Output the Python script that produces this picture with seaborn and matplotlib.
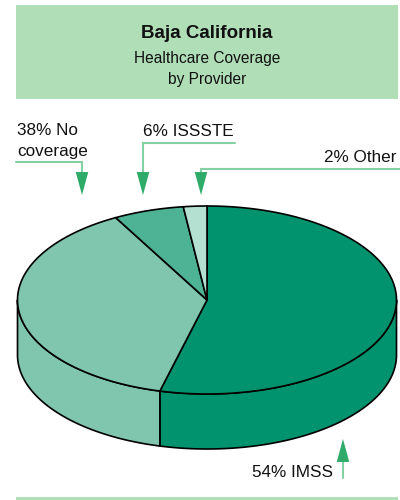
import numpy as np
import matplotlib
matplotlib.use("Agg")
import matplotlib.pyplot as plt
import seaborn as sns
from matplotlib.patches import Polygon, Rectangle

# ---- data ----
categories = ["IMSS", "No coverage", "ISSSTE", "Other"]
shares = [54, 38, 6, 2]
slice_labels = ["54% IMSS", "38% No\ncoverage", "6% ISSSTE", "2% Other"]
slice_colors = ["#00936d", "#80c6ae", "#4eb394", "#b4e0d2"]
title = "Baja California"
subtitle_lines = ["Healthcare Coverage", "by Provider"]

sns.set_theme(style="white")
plt.rcParams["font.family"] = ["Liberation Sans", "DejaVu Sans"]

fig = plt.figure(figsize=(4, 5), dpi=100)
ax = fig.add_axes([0, 0, 1, 1])
ax.set_xlim(0, 400)
ax.set_ylim(500, 0)
ax.axis("off")

HEADER = "#b0deb7"
LINE_C = "#85d0a2"
HEAD_C = "#2fab69"

# header box and bottom rule
ax.add_patch(Rectangle((16, 5), 382, 93.5, facecolor=HEADER, edgecolor="none"))
ax.add_patch(Rectangle((16, 497), 382, 3, facecolor=HEADER, edgecolor="none"))
ax.text(207, 37.5, title, ha="center", va="baseline", fontsize=13.5,
        fontweight="bold", color="#111111")
for i, line in enumerate(subtitle_lines):
    ax.text(207, 63 + 21 * i, line, ha="center", va="baseline",
            fontsize=11.2, color="#111111")

# ---- 3D pie ----
cx, cy, rx, ry, depth = 207, 300, 189.5, 94, 55
frac = np.array(shares, dtype=float) / sum(shares)
starts = np.pi / 2 - 2 * np.pi * np.concatenate([[0], np.cumsum(frac)[:-1]])
ends = starts - 2 * np.pi * frac


def arc(t0, t1, n=120, dy=0.0):
    t = np.linspace(t0, t1, n)
    return np.column_stack([cx + rx * np.cos(t), cy - ry * np.sin(t) + dy])


EDGE = dict(edgecolor="black", linewidth=1.2, joinstyle="round")

# sides (front half only)
for s, e, col in zip(starts, ends, slice_colors):
    for k in (-1, 0, 1):
        lo = max(e, -np.pi + 2 * np.pi * k)
        hi = min(s, 2 * np.pi * k)
        if hi > lo:
            top = arc(lo, hi)
            bot = arc(hi, lo, dy=depth)
            ax.add_patch(Polygon(np.vstack([top, bot]), closed=True,
                                 facecolor=col, **EDGE))

# tops
for s, e, col in zip(starts, ends, slice_colors):
    pts = np.vstack([[cx, cy], arc(s, e)])
    ax.add_patch(Polygon(pts, closed=True, facecolor=col, **EDGE))

# ---- callouts ----
TXT = dict(fontsize=12.3, color="#111111", va="baseline")


def head(x, tip_y, up=False):
    tail = tip_y + 23 if not up else tip_y - 23
    if up:
        tail = tip_y + 23
    else:
        tail = tip_y - 23
    ax.annotate("", xy=(x, tip_y), xytext=(x, tail),
                arrowprops=dict(arrowstyle="-|>,head_length=1.65,head_width=0.45",
                                color=HEAD_C, lw=0.01, mutation_scale=10,
                                shrinkA=0, shrinkB=0))


# No coverage
ax.text(17, 135, "38% No", ha="left", **TXT)
ax.text(17, 156, "coverage", ha="left", **TXT)
ax.plot([16, 82, 82], [162, 162, 185], color=LINE_C, lw=1.5, solid_joinstyle="miter")
head(82, 195)

# ISSSTE
ax.text(143, 136, slice_labels[2], ha="left", **TXT)
ax.plot([235, 143, 143], [143, 143, 185], color=LINE_C, lw=1.5, solid_joinstyle="miter")
head(143, 195)

# Other
ax.text(397, 162.5, slice_labels[3], ha="right", **TXT)
ax.plot([400, 201, 201], [169, 169, 185], color=LINE_C, lw=1.5, solid_joinstyle="miter")
head(201, 195)

# IMSS
ax.text(252, 477, slice_labels[0], ha="left", **TXT)
ax.plot([343, 343], [478, 450], color=LINE_C, lw=1.5)
head(343, 439, up=True)

fig.savefig("out.png", dpi=100)
